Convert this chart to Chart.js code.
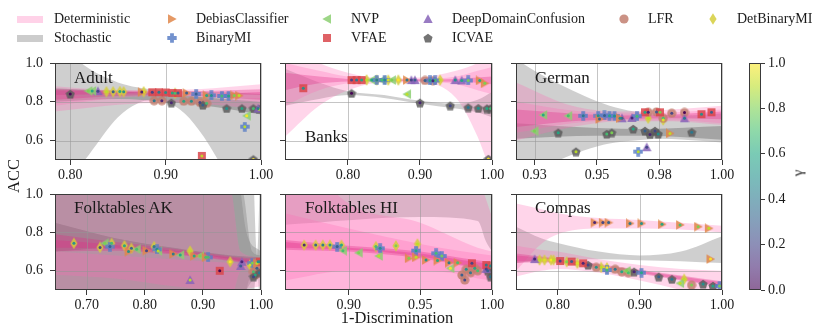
<!DOCTYPE html>
<html>
<head>
<meta charset="utf-8">
<script src="https://cdn.jsdelivr.net/npm/chart.js@4.4.1/dist/chart.umd.min.js"></script>
<style>
  body { margin: 0; width: 830px; height: 336px; position: relative; overflow: hidden; background: #fff;
         font-family: 'Liberation Serif', serif; color: #1a1a1a; }
  canvas { position: absolute; }
  .t { position: absolute; white-space: nowrap; line-height: 1; }
</style>
</head>
<body>
<script>
// ---- data ----
const methodKeys = ['DC', 'BMI', 'NVP', 'VFAE', 'DDC', 'ICVAE', 'LFR', 'DBMI'];
const methodNames = ['DebiasClassifier', 'BinaryMI', 'NVP', 'VFAE', 'DeepDomainConfusion', 'ICVAE', 'LFR', 'DetBinaryMI'];
const methodColors = ['#e0874a', '#5a7fc6', '#8ccf72', '#d9464b', '#8764b8', '#5c5c5c', '#c27f70', '#d5ce3c'];
const methodShapes = ['right', 'plus', 'left', 'square', 'up', 'pentagon', 'circle', 'diamond'];
const viridis = ['#440154', '#482475', '#414487', '#355f8d', '#2a788e', '#21918c', '#22a884', '#44bf70', '#7ad151', '#bddf26', '#fde725'];
const yTicks = [0.6, 0.8, 1.0];
const gammaTicks = [0, 0.2, 0.4, 0.6, 0.8, 1.0];

// [method, 1-Discrimination, ACC, gamma]
const adultPts = [
  ['ICVAE', 0.800, 0.840, 0.0], ['ICVAE', 0.906, 0.795, 0.1], ['ICVAE', 0.939, 0.783, 0.3], ['ICVAE', 0.964, 0.766, 0.5],
  ['ICVAE', 0.980, 0.766, 0.6], ['ICVAE', 0.992, 0.766, 0.7], ['ICVAE', 0.998, 0.762, 0.9], ['ICVAE', 0.992, 0.503, 1.0],
  ['NVP', 0.819, 0.856, 0.8], ['NVP', 0.823, 0.856, 0.6], ['NVP', 0.985, 0.728, 1.0],
  ['DDC', 0.829, 0.855, 0.2], ['DDC', 0.997, 0.765, 0.4],
  ['DBMI', 0.838, 0.852, 0.9], ['DBMI', 0.845, 0.852, 0.3], ['DBMI', 0.852, 0.853, 0.6], ['DBMI', 0.856, 0.852, 0.5],
  ['DBMI', 0.877, 0.852, 0.95], ['DBMI', 0.910, 0.844, 0.7],
  ['DC', 0.875, 0.850, 0.1], ['DC', 0.922, 0.845, 0.3], ['DC', 0.943, 0.833, 0.6], ['DC', 0.972, 0.833, 0.8], ['DC', 0.977, 0.832, 0.9],
  ['VFAE', 0.886, 0.849, 0.2], ['VFAE', 0.893, 0.849, 0.4], ['VFAE', 0.900, 0.848, 0.5], ['VFAE', 0.907, 0.846, 0.6],
  ['VFAE', 0.913, 0.845, 0.3], ['VFAE', 0.938, 0.521, 0.9],
  ['LFR', 0.888, 0.806, 0.4], ['LFR', 0.896, 0.806, 0.1], ['LFR', 0.919, 0.803, 0.6], ['LFR', 0.927, 0.803, 0.5],
  ['LFR', 0.936, 0.797, 0.2], ['LFR', 0.943, 0.792, 0.7],
  ['BMI', 0.932, 0.840, 0.3], ['BMI', 0.948, 0.833, 0.5], ['BMI', 0.959, 0.830, 0.7], ['BMI', 0.966, 0.830, 0.6], ['BMI', 0.983, 0.672, 0.9]
];
const banksPts = [
  ['VFAE', 0.738, 0.870, 0.5], ['VFAE', 0.805, 0.912, 0.2], ['VFAE', 0.812, 0.912, 0.4], ['VFAE', 0.819, 0.912, 0.6],
  ['ICVAE', 0.805, 0.844, 0.0], ['ICVAE', 0.900, 0.795, 0.1], ['ICVAE', 0.942, 0.780, 0.2], ['ICVAE', 0.967, 0.770, 0.4],
  ['ICVAE', 0.981, 0.767, 0.5], ['ICVAE', 0.993, 0.765, 0.6], ['ICVAE', 0.998, 0.765, 0.7], ['ICVAE', 0.995, 0.505, 1.0],
  ['NVP', 0.882, 0.839, 0.9], ['NVP', 0.833, 0.912, 0.6], ['NVP', 0.847, 0.912, 0.7], ['NVP', 0.861, 0.912, 0.8],
  ['DBMI', 0.826, 0.913, 0.9], ['DBMI', 0.840, 0.912, 0.8], ['DBMI', 0.856, 0.912, 0.95], ['DBMI', 0.870, 0.912, 1.0], ['DBMI', 0.928, 0.912, 0.9],
  ['BMI', 0.840, 0.912, 0.4], ['BMI', 0.851, 0.912, 0.5], ['BMI', 0.914, 0.910, 0.6], ['BMI', 0.921, 0.910, 0.7], ['BMI', 0.967, 0.910, 0.8],
  ['DDC', 0.888, 0.912, 0.2], ['DDC', 0.893, 0.912, 0.3], ['DDC', 0.949, 0.912, 0.5], ['DDC', 0.958, 0.910, 0.6],
  ['LFR', 0.907, 0.910, 0.3], ['LFR', 0.918, 0.908, 0.1],
  ['DC', 0.882, 0.912, 0.4], ['DC', 0.983, 0.910, 0.6], ['DC', 0.990, 0.895, 0.8]
];
const germanPts = [
  ['NVP', 0.9285, 0.732, 0.6], ['NVP', 0.9385, 0.728, 0.7], ['NVP', 0.925, 0.649, 0.8],
  ['BMI', 0.9445, 0.728, 0.4], ['BMI', 0.9505, 0.728, 0.5], ['BMI', 0.953, 0.730, 0.3], ['BMI', 0.955, 0.728, 0.6],
  ['BMI', 0.957, 0.727, 0.5], ['BMI', 0.966, 0.726, 0.7], ['BMI', 0.9665, 0.543, 0.9],
  ['ICVAE', 0.9345, 0.641, 0.6], ['ICVAE', 0.9416, 0.543, 0.9], ['ICVAE', 0.9539, 0.634, 0.7], ['ICVAE', 0.9559, 0.641, 0.8],
  ['ICVAE', 0.9645, 0.660, 0.6], ['ICVAE', 0.9692, 0.650, 0.3], ['ICVAE', 0.9712, 0.632, 0.1], ['ICVAE', 0.9732, 0.650, 0.2],
  ['ICVAE', 0.9745, 0.634, 0.5], ['ICVAE', 0.9879, 0.643, 0.4],
  ['DDC', 0.9699, 0.566, 0.2], ['DDC', 0.960, 0.715, 0.3], ['DDC', 0.964, 0.717, 0.1], ['DDC', 0.985, 0.715, 0.4],
  ['DC', 0.951, 0.711, 0.3], ['DC', 0.9592, 0.715, 0.5], ['DC', 0.9792, 0.637, 0.9],
  ['VFAE', 0.9692, 0.746, 0.6], ['VFAE', 0.9752, 0.746, 0.8], ['VFAE', 0.9918, 0.736, 0.5], ['VFAE', 0.9958, 0.746, 0.3],
  ['LFR', 0.9705, 0.746, 0.1], ['LFR', 0.9738, 0.748, 0.3], ['LFR', 0.9799, 0.741, 0.2], ['LFR', 0.9765, 0.715, 0.7], ['LFR', 0.985, 0.745, 0.0],
  ['DBMI', 0.9705, 0.715, 0.9], ['DBMI', 0.9765, 0.706, 0.95]
];
const akPts = [
  ['DBMI', 0.678, 0.743, 0.5], ['DBMI', 0.723, 0.722, 0.2], ['DBMI', 0.743, 0.743, 0.7], ['DBMI', 0.765, 0.731, 0.6],
  ['DBMI', 0.777, 0.717, 0.3], ['DBMI', 0.816, 0.726, 0.4], ['DBMI', 0.878, 0.703, 0.9], ['DBMI', 0.947, 0.647, 1.0], ['DBMI', 0.981, 0.630, 0.95],
  ['BMI', 0.740, 0.726, 0.3], ['BMI', 0.821, 0.712, 0.5], ['BMI', 0.909, 0.670, 0.7], ['BMI', 0.985, 0.640, 0.8],
  ['NVP', 0.731, 0.743, 0.8], ['NVP', 0.786, 0.712, 0.7], ['NVP', 0.823, 0.703, 0.9], ['NVP', 0.861, 0.682, 0.6], ['NVP', 0.895, 0.677, 0.8],
  ['DC', 0.772, 0.700, 0.5], ['DC', 0.803, 0.705, 0.2], ['DC', 0.849, 0.688, 0.4], ['DC', 0.885, 0.677, 0.6], ['DC', 0.905, 0.670, 0.7], ['DC', 0.993, 0.639, 0.9],
  ['DDC', 0.878, 0.552, 0.9], ['DDC', 0.967, 0.647, 0.1], ['DDC', 0.965, 0.625, 0.3],
  ['VFAE', 0.929, 0.600, 0.0], ['VFAE', 0.998, 0.647, 0.5],
  ['LFR', 0.990, 0.578, 0.6], ['LFR', 0.993, 0.613, 0.3], ['LFR', 0.995, 0.647, 0.5], ['LFR', 0.987, 0.595, 0.7],
  ['ICVAE', 0.987, 0.569, 0.2], ['ICVAE', 0.997, 0.590, 0.4]
];
const hiPts = [
  ['DBMI', 0.869, 0.734, 0.1], ['DBMI', 0.877, 0.734, 0.3], ['DBMI', 0.882, 0.734, 0.4], ['DBMI', 0.887, 0.734, 0.5],
  ['DBMI', 0.895, 0.734, 0.6], ['DBMI', 0.919, 0.726, 0.7], ['DBMI', 0.933, 0.730, 0.8], ['DBMI', 0.948, 0.740, 0.9],
  ['BMI', 0.892, 0.726, 0.3], ['BMI', 0.922, 0.717, 0.5], ['BMI', 0.947, 0.705, 0.6], ['BMI', 0.961, 0.691, 0.7], ['BMI', 0.965, 0.677, 0.8],
  ['NVP', 0.896, 0.705, 0.7], ['NVP', 0.907, 0.694, 0.8], ['NVP', 0.921, 0.677, 0.9], ['NVP', 0.971, 0.613, 1.0],
  ['DC', 0.942, 0.665, 0.8], ['DC', 0.947, 0.670, 0.9], ['DC', 0.954, 0.656, 0.5], ['DC', 0.962, 0.653, 0.6], ['DC', 0.970, 0.642, 0.4], ['DC', 0.976, 0.642, 0.7],
  ['VFAE', 0.986, 0.639, 0.2], ['VFAE', 0.996, 0.630, 0.4],
  ['LFR', 0.979, 0.578, 0.3], ['LFR', 0.982, 0.608, 0.5], ['LFR', 0.985, 0.590, 0.4], ['LFR', 0.988, 0.613, 0.6],
  ['LFR', 0.990, 0.600, 0.7], ['LFR', 0.981, 0.552, 0.2], ['LFR', 0.999, 0.625, 0.5],
  ['ICVAE', 0.999, 0.569, 0.4], ['ICVAE', 0.997, 0.600, 0.3], ['DDC', 0.996, 0.610, 0.2]
];
const compasPts = [
  ['DC', 0.845, 0.851, 0.1], ['DC', 0.855, 0.851, 0.2], ['DC', 0.862, 0.851, 0.3], ['DC', 0.888, 0.847, 0.4], ['DC', 0.902, 0.847, 0.5],
  ['DC', 0.927, 0.842, 0.6], ['DC', 0.949, 0.839, 0.7], ['DC', 0.971, 0.830, 0.8], ['DC', 0.984, 0.821, 0.9], ['DC', 0.986, 0.661, 1.0],
  ['DBMI', 0.778, 0.656, 0.9], ['DBMI', 0.784, 0.656, 0.95], ['DBMI', 0.792, 0.656, 1.0], ['DBMI', 0.795, 0.656, 0.9],
  ['DBMI', 0.811, 0.647, 0.8], ['DBMI', 0.824, 0.639, 0.95], ['DBMI', 0.853, 0.618, 0.9], ['DBMI', 0.860, 0.616, 1.0], ['DBMI', 0.954, 0.556, 0.9],
  ['DDC', 0.772, 0.661, 0.1],
  ['VFAE', 0.803, 0.651, 0.2], ['VFAE', 0.817, 0.648, 0.3], ['VFAE', 0.831, 0.639, 0.1],
  ['ICVAE', 0.837, 0.630, 0.2], ['ICVAE', 0.893, 0.595, 0.1], ['ICVAE', 0.923, 0.569, 0.3], ['ICVAE', 0.939, 0.556, 0.4],
  ['ICVAE', 0.977, 0.531, 0.5], ['ICVAE', 0.989, 0.521, 0.6],
  ['LFR', 0.847, 0.618, 0.5], ['LFR', 0.870, 0.608, 0.4], ['LFR', 0.878, 0.595, 0.6], ['LFR', 0.886, 0.590, 0.7], ['LFR', 0.963, 0.526, 0.8],
  ['BMI', 0.860, 0.604, 0.7], ['BMI', 0.902, 0.590, 0.6], ['BMI', 0.997, 0.521, 0.8],
  ['NVP', 0.884, 0.600, 0.8], ['NVP', 0.949, 0.535, 0.9]
];

// confidence bands of the fits, read at a few x positions (drawn in list order, later on top)
const adultBands = [
  { kind: 'sto', x: [0.784, 0.80, 0.82, 0.85, 0.87, 0.885, 0.90, 0.92, 0.94, 0.955, 0.97, 1.0],
    hi: [1.15, 1.05, 0.97, 0.90, 0.875, 0.865, 0.86, 0.855, 0.852, 0.85, 0.848, 0.84],
    lo: [0.25, 0.40, 0.53, 0.72, 0.79, 0.81, 0.80, 0.74, 0.62, 0.50, 0.38, 0.10] },
  { kind: 'stoc', x: [0.784, 0.85, 0.90, 0.95, 1.0], lo: [0.80, 0.815, 0.80, 0.775, 0.735], hi: [0.87, 0.855, 0.84, 0.82, 0.80] },
  { kind: 'det', x: [0.784, 0.85, 0.90, 0.95, 1.0], lo: [0.75, 0.785, 0.795, 0.785, 0.76], hi: [0.84, 0.815, 0.81, 0.81, 0.82] },
  { kind: 'det', x: [0.784, 0.85, 0.90, 0.95, 1.0], lo: [0.78, 0.82, 0.83, 0.82, 0.80], hi: [0.88, 0.86, 0.86, 0.87, 0.89] },
  { kind: 'detc', x: [0.784, 0.85, 0.90, 0.95, 1.0], lo: [0.835, 0.842, 0.845, 0.843, 0.835], hi: [0.865, 0.858, 0.853, 0.857, 0.865] },
  { kind: 'detc', x: [0.784, 0.85, 0.90, 0.95, 1.0], lo: [0.81, 0.83, 0.835, 0.825, 0.81], hi: [0.86, 0.852, 0.848, 0.842, 0.85] }
];
const banksBands = [
  { kind: 'sto', x: [0.7126, 0.76, 0.80, 0.85, 0.90, 0.95, 0.98, 1.0], lo: [0.78, 0.815, 0.835, 0.82, 0.79, 0.765, 0.745, 0.72], hi: [0.97, 0.90, 0.855, 0.835, 0.805, 0.79, 0.81, 0.85] },
  { kind: 'det', x: [0.7126, 0.76, 0.80, 0.85, 0.90, 0.95, 0.98, 1.0], lo: [0.62, 0.78, 0.86, 0.90, 0.90, 0.82, 0.62, 0.42], hi: [1.10, 1.00, 0.95, 0.92, 0.925, 0.96, 1.0, 1.05] },
  { kind: 'det', x: [0.7126, 0.76, 0.80, 0.85, 0.90, 0.95, 0.98, 1.0], lo: [0.78, 0.86, 0.895, 0.905, 0.905, 0.89, 0.86, 0.84], hi: [1.0, 0.96, 0.93, 0.918, 0.918, 0.93, 0.96, 0.98] },
  { kind: 'detc', x: [0.7126, 0.76, 0.80, 0.85, 0.90, 0.95, 0.98, 1.0], lo: [0.86, 0.895, 0.905, 0.908, 0.906, 0.903, 0.898, 0.89], hi: [0.95, 0.93, 0.918, 0.915, 0.915, 0.918, 0.925, 0.93] }
];
const germanBands = [
  { kind: 'sto', x: [0.9176, 0.925, 0.935, 0.945, 0.955, 0.965, 0.975, 0.985, 1.0],
    hi: [1.02, 0.96, 0.89, 0.83, 0.78, 0.75, 0.735, 0.73, 0.74], lo: [0.38, 0.43, 0.50, 0.55, 0.585, 0.60, 0.61, 0.605, 0.59] },
  { kind: 'stoc', x: [0.9176, 0.95, 0.97, 1.0], lo: [0.61, 0.625, 0.625, 0.605], hi: [0.69, 0.665, 0.66, 0.675] },
  { kind: 'det', x: [0.9176, 0.94, 0.96, 0.98, 1.0], lo: [0.60, 0.67, 0.70, 0.70, 0.68], hi: [0.90, 0.78, 0.75, 0.76, 0.78] },
  { kind: 'det', x: [0.9176, 0.94, 0.96, 0.98, 1.0], lo: [0.64, 0.69, 0.705, 0.705, 0.69], hi: [0.80, 0.755, 0.74, 0.745, 0.76] },
  { kind: 'detc', x: [0.9176, 0.94, 0.96, 0.98, 1.0], lo: [0.67, 0.70, 0.71, 0.715, 0.71], hi: [0.76, 0.74, 0.73, 0.735, 0.75] }
];
const akBands = [
  { kind: 'sto', x: [0.6455, 0.96, 0.985, 0.993, 1.0], hi: [1.3, 1.3, 1.2, 0.68, 1.3], lo: [0.3, 0.3, 0.4, 0.6, 0.3] },
  { kind: 'sto', x: [0.6455, 0.94, 0.97, 0.985, 1.0], hi: [1.3, 1.3, 1.0, 0.70, 0.68], lo: [0.3, 0.3, 0.45, 0.6, 0.62] },
  { kind: 'sto', x: [0.6455, 0.95, 0.975, 1.0], hi: [1.3, 1.3, 0.80, 0.70], lo: [0.3, 0.3, 0.5, 0.6] },
  { kind: 'stoc', x: [0.6455, 0.75, 0.85, 0.95, 1.0], lo: [0.70, 0.72, 0.70, 0.66, 0.63], hi: [0.85, 0.77, 0.72, 0.68, 0.67] },
  { kind: 'det', x: [0.6455, 0.93, 0.95, 0.965, 1.0], hi: [1.3, 1.2, 1.0, 0.70, 0.67], lo: [0.3, 0.3, 0.45, 0.6, 0.62] },
  { kind: 'det', x: [0.6455, 0.75, 0.85, 0.95, 1.0], lo: [0.58, 0.56, 0.52, 0.50, 0.52], hi: [0.70, 0.68, 0.66, 0.64, 0.63] },
  { kind: 'detc', x: [0.6455, 0.75, 0.85, 0.95, 1.0], lo: [0.70, 0.705, 0.685, 0.65, 0.625], hi: [0.79, 0.75, 0.715, 0.675, 0.66] },
  { kind: 'detc', x: [0.6455, 0.75, 0.85, 0.95, 1.0], lo: [0.72, 0.715, 0.69, 0.655, 0.635], hi: [0.76, 0.735, 0.705, 0.668, 0.65] }
];
const hiBands = [
  { kind: 'sto', x: [0.8556, 0.95, 0.99, 0.996, 1.0], hi: [1.3, 1.3, 1.3, 1.3, 0.9], lo: [0.84, 0.88, 0.86, 0.75, 0.7] },
  { kind: 'det', x: [0.8556, 0.90, 0.95, 0.98, 0.99, 1.0], hi: [1.3, 1.3, 1.3, 1.3, 1.1, 0.88], lo: [0.3, 0.3, 0.3, 0.3, 0.3, 0.3] },
  { kind: 'det', x: [0.8556, 0.90, 0.95, 0.98, 0.99, 1.0], hi: [1.3, 0.95, 0.85, 0.75, 0.72, 0.70], lo: [0.3, 0.3, 0.3, 0.3, 0.3, 0.3] },
  { kind: 'det', x: [0.8556, 0.90, 0.95, 0.98, 0.99, 1.0], lo: [0.55, 0.60, 0.60, 0.58, 0.56, 0.55], hi: [0.90, 0.82, 0.74, 0.70, 0.69, 0.68] },
  { kind: 'detc', x: [0.8556, 0.90, 0.95, 0.98, 0.99, 1.0], lo: [0.71, 0.70, 0.665, 0.625, 0.61, 0.595], hi: [0.76, 0.73, 0.70, 0.665, 0.655, 0.645] },
  { kind: 'detc', x: [0.8556, 0.90, 0.95, 0.98, 0.99, 1.0], lo: [0.72, 0.71, 0.675, 0.63, 0.615, 0.60], hi: [0.75, 0.72, 0.69, 0.655, 0.645, 0.635] }
];
const compasBands = [
  { kind: 'sto', x: [0.7493, 0.78, 0.80, 0.85, 0.90, 0.95, 1.0], hi: [0.83, 0.77, 0.745, 0.70, 0.68, 0.70, 0.78], lo: [0.64, 0.655, 0.66, 0.66, 0.655, 0.65, 0.64] },
  { kind: 'det', x: [0.7493, 0.78, 0.80, 0.85, 0.90, 0.95, 1.0], hi: [0.95, 0.92, 0.90, 0.875, 0.865, 0.85, 0.835], lo: [0.60, 0.74, 0.79, 0.82, 0.82, 0.815, 0.80] },
  { kind: 'det', x: [0.7493, 0.78, 0.80, 0.85, 0.90, 0.95, 1.0], hi: [0.73, 0.71, 0.70, 0.66, 0.63, 0.61, 0.60], lo: [0.57, 0.60, 0.61, 0.59, 0.55, 0.50, 0.44] },
  { kind: 'detc', x: [0.7493, 0.78, 0.80, 0.85, 0.90, 0.95, 1.0], hi: [0.69, 0.675, 0.665, 0.635, 0.605, 0.575, 0.545], lo: [0.64, 0.645, 0.64, 0.615, 0.585, 0.55, 0.515] },
  { kind: 'detc', x: [0.7493, 0.78, 0.80, 0.85, 0.90, 0.95, 1.0], hi: [0.68, 0.67, 0.66, 0.63, 0.60, 0.57, 0.54], lo: [0.65, 0.65, 0.645, 0.62, 0.59, 0.555, 0.52] }
];

// ---- layout / styling ----
const bandFill = { det: 'rgba(255,105,180,0.28)', detc: 'rgba(225,45,135,0.32)', sto: 'rgba(128,128,128,0.38)', stoc: 'rgba(85,85,85,0.35)' };
const panels = [
  { title: 'Adult', tx: 74, tb: 83.5, pts: adultPts, bands: adultBands, xmin: 0.784, xmax: 1.0, xticks: [0.8, 0.9, 1.0], L: 55, T: 63, W: 206, H: 97, ylab: true },
  { title: 'Banks', tx: 305, tb: 142, pts: banksPts, bands: banksBands, xmin: 0.7126, xmax: 1.0, xticks: [0.8, 0.9, 1.0], L: 285, T: 63, W: 207, H: 97 },
  { title: 'German', tx: 535, tb: 83.5, pts: germanPts, bands: germanBands, xmin: 0.9176, xmax: 1.0, xticks: [0.925, 0.95, 0.975, 1.0], L: 516, T: 63, W: 206, H: 97 },
  { title: 'Folktables AK', tx: 74, tb: 213.5, pts: akPts, bands: akBands, xmin: 0.6455, xmax: 1.0, xticks: [0.7, 0.8, 0.9, 1.0], L: 55, T: 194, W: 206, H: 96, ylab: true },
  { title: 'Folktables HI', tx: 305, tb: 213.5, pts: hiPts, bands: hiBands, xmin: 0.8556, xmax: 1.0, xticks: [0.9, 0.95, 1.0], L: 285, T: 194, W: 207, H: 96 },
  { title: 'Compas', tx: 535, tb: 213.5, pts: compasPts, bands: compasBands, xmin: 0.7493, xmax: 1.0, xticks: [0.8, 0.9, 1.0], L: 516, T: 194, W: 206, H: 96 }
];

Chart.defaults.font.family = "'Liberation Serif', serif";
Chart.defaults.font.size = 14;
Chart.defaults.color = '#1a1a1a';

function hexRgb(h) { return [1, 3, 5].map(i => parseInt(h.slice(i, i + 2), 16)); }
function gammaColor(g, a) {
  const f = Math.min(Math.max(g, 0), 1) * 10, i = Math.min(Math.floor(f), 9), t = f - i;
  const c0 = hexRgb(viridis[i]), c1 = hexRgb(viridis[i + 1]);
  const c = c0.map((v, k) => Math.round(v + (c1[k] - v) * t));
  return `rgba(${c[0]},${c[1]},${c[2]},${a})`;
}

function markerCanvas(shape, color) {
  const s = shape === 'diamond' ? 12 : 10;
  const c = document.createElement('canvas');
  c.width = s; c.height = s;
  const g = c.getContext('2d');
  const m = s / 2;
  g.globalAlpha = 0.85;
  g.fillStyle = color;
  g.beginPath();
  if (shape === 'right') { g.moveTo(1, 0.3); g.lineTo(s - 0.3, m); g.lineTo(1, s - 0.3); }
  else if (shape === 'left') { g.moveTo(s - 1, 0.3); g.lineTo(0.3, m); g.lineTo(s - 1, s - 0.3); }
  else if (shape === 'up') { g.moveTo(m, 0.3); g.lineTo(s - 0.3, s - 1); g.lineTo(0.3, s - 1); }
  else if (shape === 'square') { g.rect(1, 1, s - 2, s - 2); }
  else if (shape === 'circle') { g.arc(m, m, m - 0.4, 0, Math.PI * 2); }
  else if (shape === 'pentagon') {
    for (let k = 0; k < 5; k++) {
      const a = -Math.PI / 2 + k * 2 * Math.PI / 5;
      g.lineTo(m + (m - 0.2) * Math.cos(a), m + 0.5 + (m - 0.2) * Math.sin(a));
    }
  }
  else if (shape === 'plus') { const w = 3.8; g.rect((s - w) / 2, 0.3, w, s - 0.6); g.rect(0.3, (s - w) / 2, s - 0.6, w); }
  else if (shape === 'diamond') { g.moveTo(m, 0.3); g.lineTo(m + 3.6, m); g.lineTo(m, s - 0.3); g.lineTo(m - 3.6, m); }
  g.closePath();
  g.fill();
  return c;
}
const markers = methodShapes.map((sh, i) => markerCanvas(sh, methodColors[i]));

// grid drawn over the bands but under the markers, then a full frame on top
function gridOver(lastBandIndex) {
  return {
    id: 'gridOver',
    afterDatasetDraw(chart, args) {
      if (args.index !== lastBandIndex) return;
      const { ctx, chartArea: a, scales: { x, y } } = chart;
      ctx.save();
      ctx.strokeStyle = 'rgba(150,150,150,0.55)';
      ctx.lineWidth = 1;
      ctx.beginPath();
      x.ticks.forEach(t => { const p = Math.round(x.getPixelForValue(t.value)) + 0.5; ctx.moveTo(p, a.top); ctx.lineTo(p, a.bottom); });
      y.ticks.forEach(t => { const p = Math.round(y.getPixelForValue(t.value)) + 0.5; ctx.moveTo(a.left, p); ctx.lineTo(a.right, p); });
      ctx.stroke();
      ctx.restore();
    }
  };
}
const frame = {
  id: 'frame',
  afterDraw(chart) {
    const { ctx, chartArea: a } = chart;
    ctx.save();
    ctx.strokeStyle = '#3a3a3a';
    ctx.lineWidth = 1;
    ctx.strokeRect(Math.round(a.left) + 0.5, Math.round(a.top) + 0.5, Math.round(a.right - a.left) - 1, Math.round(a.bottom - a.top) - 1);
    ctx.restore();
  }
};

function addText(txt, left, top, size, extra) {
  const d = document.createElement('div');
  d.className = 't';
  d.textContent = txt;
  d.style.left = left + 'px';
  d.style.top = top + 'px';
  d.style.fontSize = size + 'px';
  if (extra) Object.assign(d.style, extra);
  document.body.appendChild(d);
  return d;
}

function makePanel(p) {
  const padL = 45, padT = 18, padR = 22, padB = 26;
  const cv = document.createElement('canvas');
  cv.width = p.W + padL + padR;
  cv.height = p.H + padT + padB;
  cv.style.left = (p.L - padL) + 'px';
  cv.style.top = (p.T - padT) + 'px';
  document.body.appendChild(cv);

  const datasets = [];
  const nb = p.bands.length;
  p.bands.forEach((b, bi) => {
    const ord = 100 - bi; // higher order is painted first
    datasets.push({ type: 'line', data: b.x.map((x, i) => ({ x, y: b.hi[i] })), fill: '+1', backgroundColor: bandFill[b.kind],
      borderColor: 'rgba(0,0,0,0)', borderWidth: 0, pointRadius: 0, cubicInterpolationMode: 'monotone', order: ord });
    datasets.push({ type: 'line', data: b.x.map((x, i) => ({ x, y: b.lo[i] })), fill: false,
      borderColor: 'rgba(0,0,0,0)', borderWidth: 0, pointRadius: 0, cubicInterpolationMode: 'monotone', order: ord });
  });
  methodKeys.forEach((k, mi) => {
    const rows = p.pts.filter(r => r[0] === k);
    if (!rows.length) return;
    datasets.push({ type: 'scatter', data: rows.map(r => ({ x: r[1], y: r[2] })), pointStyle: markers[mi], pointRadius: 5, order: 2, clip: 0 });
  });
  datasets.push({ type: 'scatter', data: p.pts.map(r => ({ x: r[1], y: r[2] })), pointBackgroundColor: p.pts.map(r => gammaColor(r[3], 0.95)),
    pointBorderWidth: 0, pointRadius: 1.5, order: 1, clip: 0 });

  const axisCommon = {
    grid: { drawOnChartArea: false, drawTicks: true, tickLength: 5, tickColor: '#3a3a3a' },
    border: { display: false }
  };
  new Chart(cv, {
    type: 'scatter',
    data: { datasets },
    options: {
      responsive: false, animation: false, devicePixelRatio: 1, events: [],
      layout: { padding: { left: 0, top: padT, right: padR, bottom: 0 } },
      plugins: { legend: { display: false }, tooltip: { enabled: false } },
      scales: {
        x: Object.assign({}, axisCommon, {
          type: 'linear', min: p.xmin, max: p.xmax,
          afterBuildTicks: s => { s.ticks = p.xticks.map(v => ({ value: v })); },
          afterFit: s => { s.height = padB; },
          ticks: { autoSkip: false, maxRotation: 0, padding: 2, callback: v => (v + 1e-9).toFixed(2) }
        }),
        y: Object.assign({}, axisCommon, {
          type: 'linear', min: 0.5, max: 1.0,
          afterBuildTicks: s => { s.ticks = yTicks.map(v => ({ value: v })); },
          afterFit: s => { s.width = padL; },
          ticks: { padding: 7, callback: v => p.ylab ? v.toFixed(1) : '' }
        })
      }
    },
    plugins: [gridOver(2 * (nb - 1)), frame]
  });
  addText(p.title, p.tx, p.tb - 0.8375 * 17, 17);
}
panels.forEach(makePanel);

// colorbar
(function () {
  const cv = document.createElement('canvas');
  const padY = 14, barW = 12, axW = 32;
  cv.width = barW + axW;
  cv.height = 227 + 2 * padY;
  cv.style.left = '749px';
  cv.style.top = (63 - padY) + 'px';
  document.body.appendChild(cv);
  new Chart(cv, {
    type: 'bar',
    data: {
      labels: ['γ'],
      datasets: [{
        data: [1], barPercentage: 1, categoryPercentage: 1, borderWidth: 0,
        backgroundColor: c => {
          const { ctx, chartArea } = c.chart;
          if (!chartArea) return 'rgba(0,0,0,0)';
          const g = ctx.createLinearGradient(0, chartArea.bottom, 0, chartArea.top);
          viridis.forEach((h, i) => g.addColorStop(i / (viridis.length - 1), gammaColor(i / (viridis.length - 1), 0.6)));
          return g;
        }
      }]
    },
    options: {
      responsive: false, animation: false, devicePixelRatio: 1, events: [],
      layout: { padding: { left: 0, right: 0, top: padY, bottom: padY } },
      plugins: { legend: { display: false }, tooltip: { enabled: false } },
      scales: {
        x: { display: false },
        y: {
          position: 'right', min: 0, max: 1,
          afterBuildTicks: s => { s.ticks = gammaTicks.map(v => ({ value: v })); },
          afterFit: s => { s.width = axW; },
          ticks: { padding: 3, callback: v => v.toFixed(1) },
          grid: { drawOnChartArea: false, tickLength: 4, tickColor: '#3a3a3a' },
          border: { display: false }
        }
      }
    },
    plugins: [frame]
  });
})();

// axis labels
addText('1-Discrimination', 397, 323.5 - 0.8375 * 16.5, 16.5, { transform: 'translateX(-50%)' });
addText('ACC', 14, 176, 16.5, { transform: 'translate(-50%,-50%) rotate(-90deg)' });
addText('γ', 798, 173, 15, { transform: 'translate(-50%,-50%) rotate(-90deg)' });

// legend
const rowMid = [19, 38];
[['det', 'Deterministic'], ['sto', 'Stochastic']].forEach((it, r) => {
  const d = document.createElement('div');
  Object.assign(d.style, { position: 'absolute', left: '17px', top: (rowMid[r] - 3.5) + 'px', width: '26px', height: '7px',
    background: it[0] === 'det' ? 'rgba(255,105,180,0.3)' : 'rgba(128,128,128,0.4)' });
  document.body.appendChild(d);
  addText(it[1], 54, rowMid[r] + 4.3 - 0.8375 * 14, 14);
});
const legendSlots = [[172, 0], [172, 1], [327, 0], [327, 1], [428, 0], [428, 1], [624, 0], [713, 0]];
methodNames.forEach((name, i) => {
  const [mx, r] = legendSlots[i];
  const c = markerCanvas(methodShapes[i], methodColors[i]);
  c.style.left = (mx - c.width / 2) + 'px';
  c.style.top = (rowMid[r] - c.height / 2) + 'px';
  document.body.appendChild(c);
  addText(name, mx + 24, rowMid[r] + 4.3 - 0.8375 * 14, 14);
});
</script>
</body>
</html>
